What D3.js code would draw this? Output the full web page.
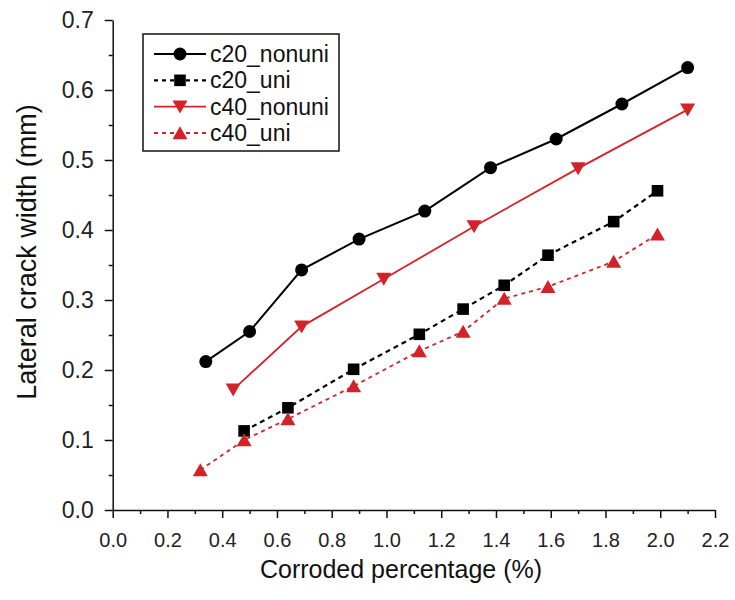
<!DOCTYPE html>
<html>
<head>
<meta charset="utf-8">
<script src="https://cdn.jsdelivr.net/npm/d3@7"></script>
<style>
  html, body { margin: 0; padding: 0; background: #fff; }
  svg { display: block; font-family: "Liberation Sans", Arial, sans-serif; }
</style>
</head>
<body>
<svg id="chart" width="735" height="600"></svg>
<script>
// values
const xTicks = [0.0, 0.2, 0.4, 0.6, 0.8, 1.0, 1.2, 1.4, 1.6, 1.8, 2.0, 2.2];
const yTicks = [0.0, 0.1, 0.2, 0.3, 0.4, 0.5, 0.6, 0.7];

const c20NonuniX = [0.34, 0.50, 0.69, 0.90, 1.14, 1.38, 1.62, 1.86, 2.10];
const c20NonuniY = [0.212, 0.255, 0.343, 0.387, 0.427, 0.489, 0.530, 0.580, 0.632];

const c20UniX = [0.48, 0.64, 0.88, 1.12, 1.28, 1.43, 1.59, 1.83, 1.99];
const c20UniY = [0.113, 0.146, 0.201, 0.251, 0.287, 0.321, 0.364, 0.412, 0.456];

const c40NonuniX = [0.44, 0.69, 0.99, 1.32, 1.70, 2.10];
const c40NonuniY = [0.172, 0.262, 0.330, 0.405, 0.488, 0.572];

const c40UniX = [0.32, 0.48, 0.64, 0.88, 1.12, 1.28, 1.43, 1.59, 1.83, 1.99];
const c40UniY = [0.057, 0.100, 0.130, 0.177, 0.227, 0.255, 0.302, 0.319, 0.355, 0.394];

const seriesNames = ["c20_nonuni", "c20_uni", "c40_nonuni", "c40_uni"];

const RED = "#d2232a";

const series = [
  { name: seriesNames[0], xs: c20NonuniX, ys: c20NonuniY, color: "#000", dash: null, width: 2, marker: "circle" },
  { name: seriesNames[1], xs: c20UniX, ys: c20UniY, color: "#000", dash: "5,4", width: 2.2, marker: "square" },
  { name: seriesNames[2], xs: c40NonuniX, ys: c40NonuniY, color: RED, dash: null, width: 1.8, marker: "down" },
  { name: seriesNames[3], xs: c40UniX, ys: c40UniY, color: RED, dash: "4,4", width: 1.8, marker: "up" }
];

const svg = d3.select("#chart");

const x = d3.scaleLinear().domain([0, 2.2]).range([112.7, 715]);
const y = d3.scaleLinear().domain([0, 0.7]).range([510, 20]);

// marker path generator, centred on 0,0
function markerPath(type) {
  switch (type) {
    case "circle": return d3.symbol().type(d3.symbolCircle).size(Math.PI * 6.5 * 6.5)();
    case "square": return "M-5.8,-5.8H5.8V5.8H-5.8Z";
    case "down": return "M-7.5,-6.2H7.5L0,6.8Z";
    case "up": return "M-7.5,6.2H7.5L0,-6.8Z";
  }
}

// axes
const xAxis = svg.append("g")
  .attr("transform", `translate(0,${y(0)})`)
  .call(d3.axisBottom(x).tickValues(xTicks).tickSize(8).tickSizeOuter(0)
    .tickPadding(15).tickFormat(d3.format(".1f")));
svg.append("g")
  .attr("transform", `translate(0,${y(0)})`)
  .call(d3.axisBottom(x).tickValues(d3.range(0.1, 2.2, 0.2)).tickSize(4).tickSizeOuter(0).tickFormat(""))
  .select(".domain").remove();

const yAxis = svg.append("g")
  .attr("transform", `translate(${x(0)},0)`)
  .call(d3.axisLeft(y).tickValues(yTicks).tickSize(8).tickSizeOuter(0)
    .tickPadding(11).tickFormat(d3.format(".1f")));
svg.append("g")
  .attr("transform", `translate(${x(0)},0)`)
  .call(d3.axisLeft(y).tickValues(d3.range(0.05, 0.7, 0.1)).tickSize(4).tickSizeOuter(0).tickFormat(""))
  .select(".domain").remove();

svg.selectAll(".domain, .tick line").attr("stroke", "#111").attr("stroke-width", 1.5);
xAxis.selectAll(".tick text").attr("font-size", 20).attr("fill", "#222").attr("font-family", null);
yAxis.selectAll(".tick text").attr("font-size", 23).attr("fill", "#222").attr("font-family", null);

// axis titles
svg.append("text")
  .attr("x", 401).attr("y", 578)
  .attr("text-anchor", "middle")
  .attr("font-size", 25).attr("fill", "#111")
  .text("Corroded percentage (%)");

svg.append("text")
  .attr("transform", "translate(36,252) rotate(-90)")
  .attr("text-anchor", "middle")
  .attr("font-size", 27).attr("fill", "#111")
  .text("Lateral crack width (mm)");

// lines and markers
const line = d3.line().x(d => x(d[0])).y(d => y(d[1]));

series.forEach(s => {
  const pts = s.xs.map((v, i) => [v, s.ys[i]]);
  svg.append("path")
    .datum(pts)
    .attr("d", line)
    .attr("fill", "none")
    .attr("stroke", s.color)
    .attr("stroke-width", s.width)
    .attr("stroke-dasharray", s.dash);
  svg.selectAll(null)
    .data(pts)
    .enter()
    .append("path")
    .attr("transform", d => `translate(${x(d[0])},${y(d[1])})`)
    .attr("d", markerPath(s.marker))
    .attr("fill", s.color);
});

// legend
const legend = svg.append("g");
legend.append("rect")
  .attr("x", 143).attr("y", 34)
  .attr("width", 196).attr("height", 117)
  .attr("fill", "#fff")
  .attr("stroke", "#111")
  .attr("stroke-width", 1.5);

const rowY = d3.scaleLinear().domain([0, 3]).range([54, 133]);

series.forEach((s, i) => {
  const g = legend.append("g").attr("transform", `translate(0,${rowY(i)})`);
  g.append("line")
    .attr("x1", 154).attr("x2", 206)
    .attr("stroke", s.color)
    .attr("stroke-width", s.width)
    .attr("stroke-dasharray", s.dash ? "4,4" : null);
  g.append("path")
    .attr("transform", "translate(180,0)")
    .attr("d", markerPath(s.marker))
    .attr("fill", s.color);
  g.append("text")
    .attr("x", 210).attr("y", 8)
    .attr("font-size", 23).attr("fill", "#111")
    .text(s.name);
});
</script>
</body>
</html>
